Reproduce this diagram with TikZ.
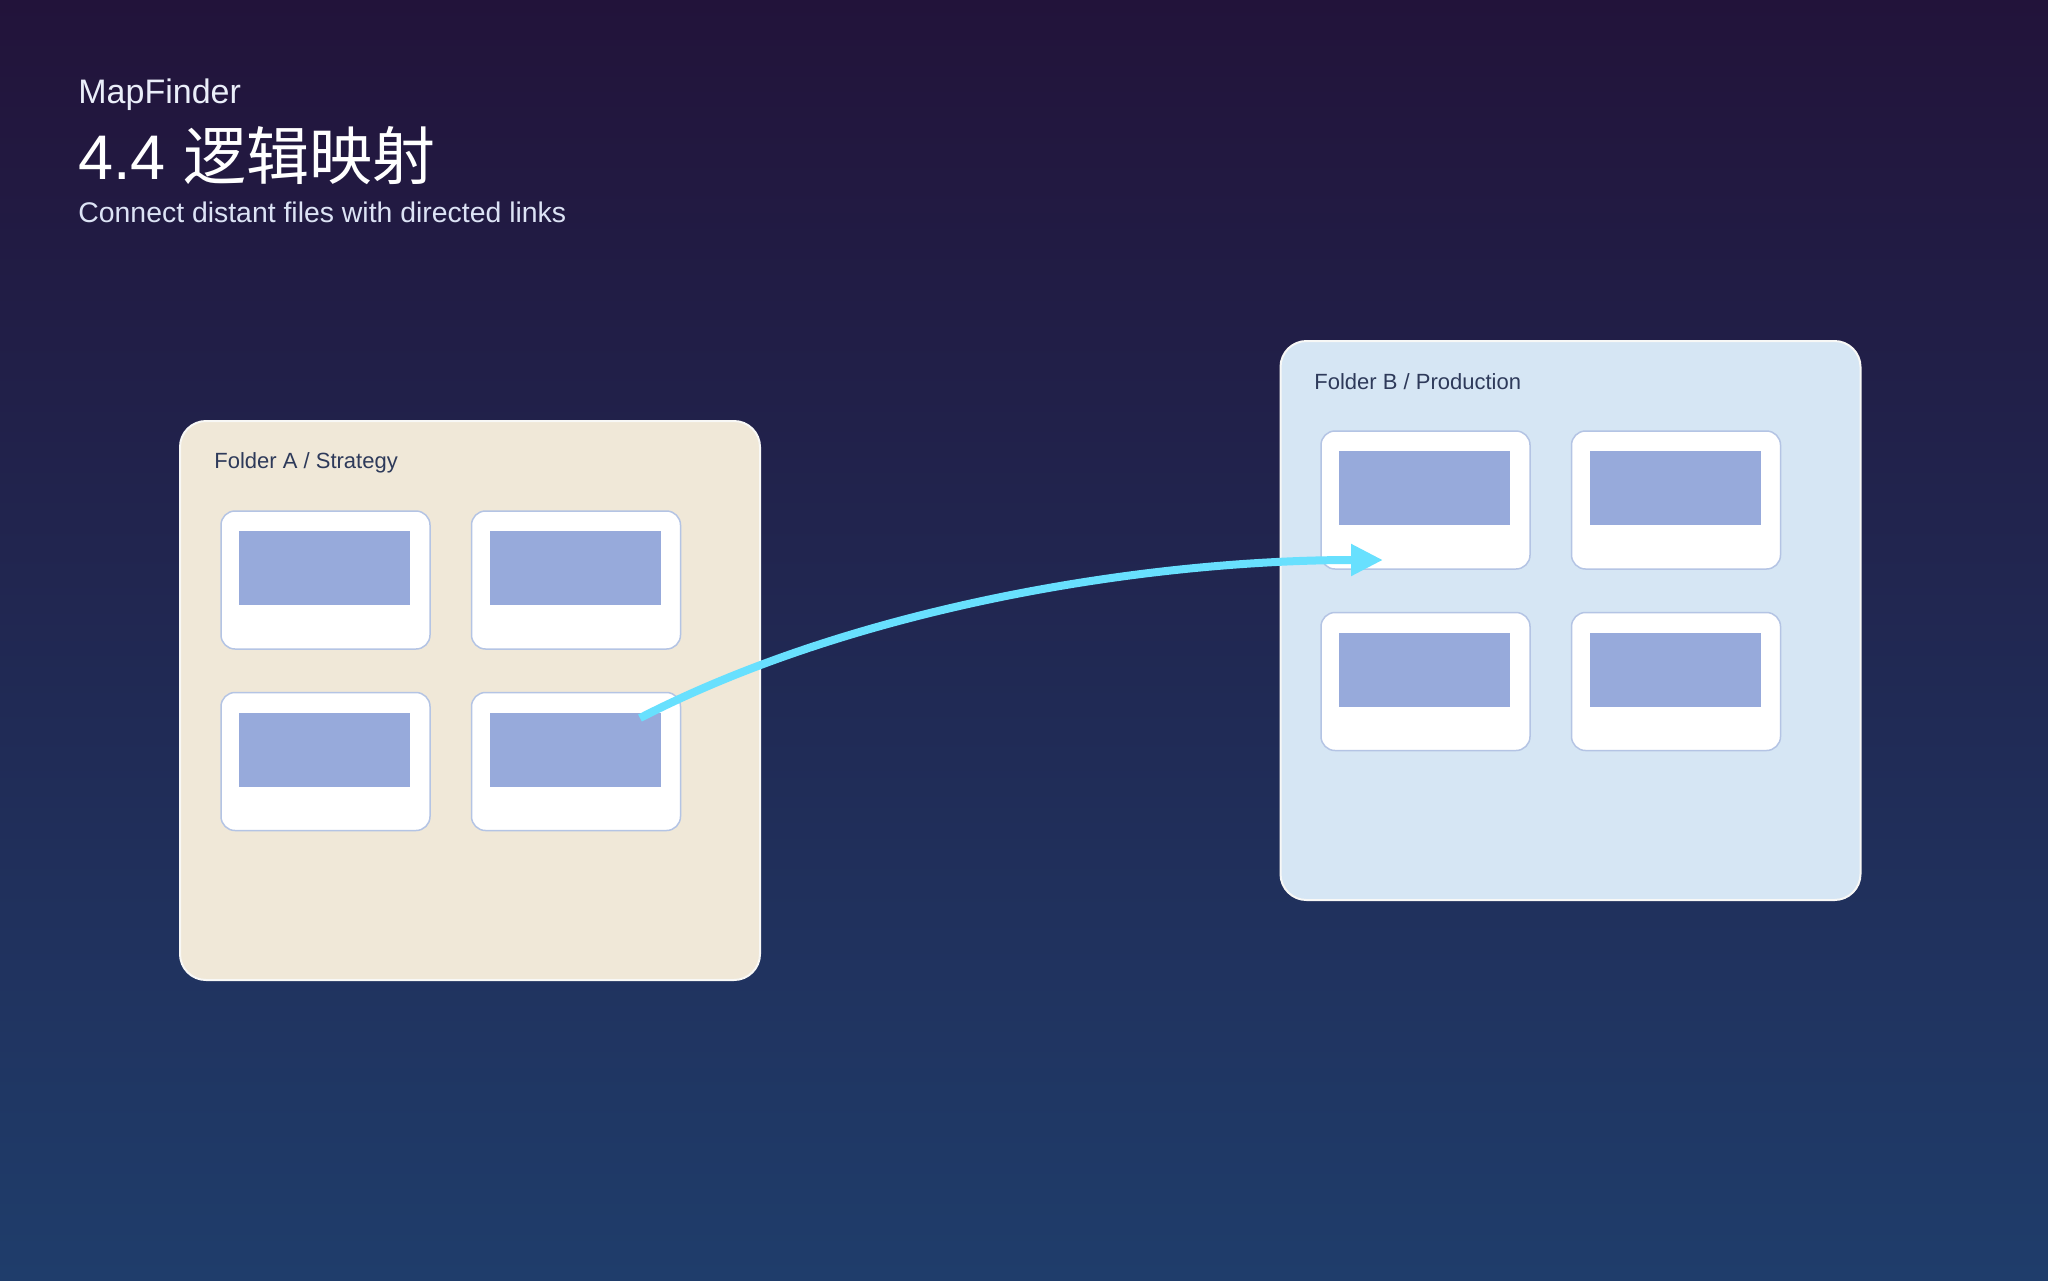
\documentclass[tikz,border=0pt]{standalone}
\usepackage{fontspec}
\setmainfont{Liberation Sans}
\newfontfamily\cjk{Noto Sans CJK SC}
\usetikzlibrary{arrows.meta,positioning}
\definecolor{bgtop}{HTML}{22133A}
\definecolor{bgbot}{HTML}{1F3D6B}
\definecolor{folderA}{HTML}{F0E8D8}
\definecolor{folderB}{HTML}{D6E6F4}
\definecolor{rim}{HTML}{F8F8F6}
\definecolor{cardline}{HTML}{B4C4E4}
\definecolor{thumbfill}{HTML}{97AADB}
\definecolor{linkcol}{HTML}{68E0FE}
\definecolor{labelcol}{HTML}{2E3A5A}
\definecolor{subcol}{HTML}{DCE3F5}

\begin{document}
\begin{tikzpicture}[x=0.5pt,y=-0.5pt,
  folder/.style={draw=rim,line width=1pt,rounded corners=13pt,minimum width=290pt,minimum height=279.5pt,inner sep=0pt},
  card/.style={draw=cardline,line width=0.75pt,fill=white,rounded corners=7pt,minimum width=104.5pt,minimum height=69pt,inner sep=0pt},
  thumb/.style={fill=thumbfill},
  flabel/.style={anchor=west,text=labelcol,font=\fontsize{11}{13}\selectfont,inner sep=0pt},
  link/.style={draw=linkcol,line width=4pt,-{Triangle[length=16pt,width=15pt]}}]
\useasboundingbox (0,0) rectangle (2048,1280);
\shade[top color=bgtop,bottom color=bgbot] (0,0) rectangle (2048,1280);
\node[anchor=west,inner sep=0pt,text=subcol!60!white,font=\fontsize{17}{20}\selectfont] (brand) at (78,95) {MapFinder};
\node[anchor=base west,inner sep=0pt,text=white,font=\fontsize{31.5}{38}\selectfont] (title) at (78,179) {4.4 {\cjk 逻辑映射}};
\node[anchor=west,inner sep=0pt,text=subcol,font=\fontsize{14.2}{17}\selectfont] (sub) at (78,212) {Connect distant files with directed links};
\node[folder,fill=folderA] (FA) at (470,700.5) {};
\node[flabel] (FAlab) at (214,463) {Folder A / Strategy};
\node[folder,fill=folderB] (FB) at (1570.5,620.5) {};
\node[flabel] (FBlab) at (1314,382) {Folder B / Production};
\node[card] (A1) at (325.5,580) {};
\node[card,right=20pt of A1] (A2) {};
\node[card,below=21pt of A1] (A3) {};
\node[card,right=20pt of A3] (A4) {};
\node[card] (B1) at (1425.5,500) {};
\node[card,right=20pt of B1] (B2) {};
\node[card,below=21pt of B1] (B3) {};
\node[card,right=20pt of B3] (B4) {};
\foreach \c in {A1,A2,A3,A4,B1,B2,B3,B4}
  \fill[thumb] ([shift={(19,21)}]\c.north west) rectangle ++(171,74);
\coordinate (ls) at (640,718); \coordinate (le) at (1383,560);
\draw[link] (ls) .. controls (860,605) and (1150,560) .. (le);
\end{tikzpicture}
\end{document}
